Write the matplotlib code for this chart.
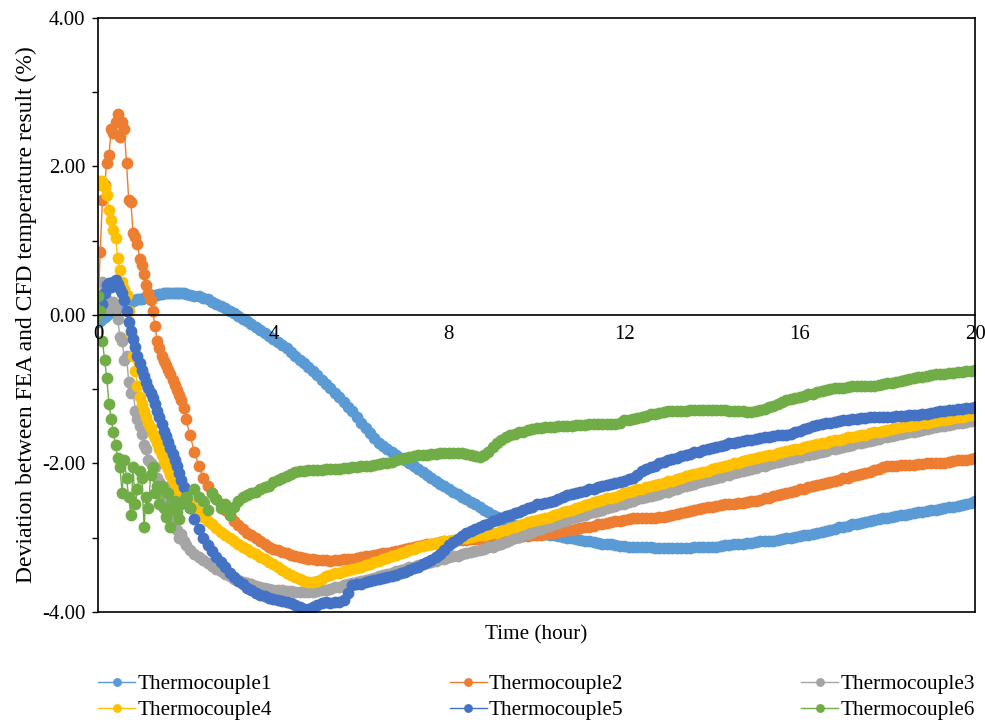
import numpy as np
import matplotlib
matplotlib.use("Agg")
import matplotlib.pyplot as plt

plt.rcParams['font.family'] = ['Liberation Serif', 'DejaVu Serif']
plt.rcParams['axes.unicode_minus'] = False

# time grid (hour): every 0.05 h for the first 2 h, then every 0.1 h
time_h = np.round(np.concatenate([np.arange(40) * 0.05, 2.0 + np.arange(181) * 0.1]), 2)

tc1 = [-0.10, -0.08, -0.05, -0.03, 0.00, 0.02, 0.04, 0.06, 0.08, 0.10,
       0.12, 0.13, 0.15, 0.16, 0.17, 0.18, 0.19, 0.20, 0.21, 0.22,
       0.22, 0.23, 0.24, 0.25, 0.25, 0.26, 0.27, 0.27, 0.28, 0.28,
       0.29, 0.29, 0.30, 0.30, 0.30, 0.30, 0.30, 0.30, 0.29, 0.29,
       # 2.0 h onwards, 0.1 h step
       0.28, 0.27, 0.26, 0.25, 0.23, 0.21, 0.18, 0.15, 0.12, 0.09,
       0.06, 0.03, -0.01, -0.05, -0.08, -0.12, -0.16, -0.20, -0.24, -0.28,
       -0.32, -0.36, -0.41, -0.45, -0.50, -0.55, -0.60, -0.65, -0.70, -0.75,
       -0.81, -0.87, -0.93, -0.99, -1.05, -1.11, -1.17, -1.24, -1.30, -1.38,
       -1.45, -1.52, -1.59, -1.66, -1.72, -1.77, -1.81, -1.85, -1.88, -1.92,
       -1.95, -1.99, -2.03, -2.07, -2.11, -2.15, -2.19, -2.23, -2.27, -2.31,
       -2.34, -2.38, -2.41, -2.45, -2.48, -2.52, -2.55, -2.59, -2.62, -2.66,
       -2.69, -2.72, -2.75, -2.78, -2.80, -2.83, -2.85, -2.87, -2.89, -2.91,
       -2.92, -2.94, -2.95, -2.96, -2.97, -2.98, -2.99, -3.00, -3.01, -3.02,
       -3.03, -3.04, -3.05, -3.06, -3.07, -3.08, -3.08, -3.09, -3.10, -3.11,
       -3.11, -3.12, -3.12, -3.13, -3.13, -3.13, -3.13, -3.14, -3.14, -3.14,
       -3.14, -3.14, -3.14, -3.14, -3.14, -3.14, -3.13, -3.13, -3.13, -3.12,
       -3.12, -3.12, -3.11, -3.10, -3.10, -3.09, -3.09, -3.08, -3.07, -3.07,
       -3.06, -3.05, -3.05, -3.05, -3.04, -3.03, -3.02, -3.01, -3.00, -2.99,
       -2.98, -2.97, -2.96, -2.95, -2.94, -2.92, -2.91, -2.89, -2.88, -2.86,
       -2.85, -2.84, -2.82, -2.81, -2.80, -2.79, -2.78, -2.76, -2.75, -2.74,
       -2.73, -2.72, -2.71, -2.70, -2.69, -2.68, -2.67, -2.66, -2.65, -2.64,
       -2.63, -2.62, -2.61, -2.60, -2.59, -2.58, -2.57, -2.56, -2.54, -2.53,
       -2.51]

tc2 = [0.10, 0.85, 1.55, 1.75, 2.05, 2.15, 2.50, 2.45, 2.60, 2.71,
       2.40, 2.60, 2.50, 2.05, 1.55, 1.52, 1.10, 1.05, 0.95, 0.75,
       0.67, 0.55, 0.40, 0.30, 0.20, 0.05, -0.15, -0.35, -0.45, -0.55,
       -0.62, -0.68, -0.74, -0.80, -0.87, -0.94, -1.01, -1.08, -1.15, -1.25,
       -1.40, -1.62, -1.85, -2.03, -2.20, -2.31, -2.40, -2.48, -2.55, -2.63,
       -2.70, -2.77, -2.83, -2.88, -2.93, -2.97, -3.01, -3.05, -3.08, -3.12,
       -3.15, -3.17, -3.19, -3.21, -3.23, -3.25, -3.26, -3.27, -3.28, -3.29,
       -3.30, -3.30, -3.30, -3.31, -3.30, -3.30, -3.29, -3.29, -3.28, -3.27,
       -3.26, -3.25, -3.24, -3.23, -3.22, -3.21, -3.20, -3.19, -3.18, -3.16,
       -3.15, -3.14, -3.13, -3.11, -3.10, -3.09, -3.08, -3.07, -3.06, -3.05,
       -3.04, -3.04, -3.03, -3.03, -3.03, -3.02, -3.02, -3.02, -3.02, -3.02,
       -3.02, -3.01, -3.01, -3.00, -3.00, -2.99, -2.99, -2.98, -2.98, -2.97,
       -2.97, -2.96, -2.95, -2.94, -2.93, -2.92, -2.91, -2.90, -2.89, -2.88,
       -2.87, -2.86, -2.85, -2.84, -2.82, -2.81, -2.80, -2.79, -2.78, -2.77,
       -2.76, -2.75, -2.74, -2.74, -2.73, -2.73, -2.73, -2.73, -2.72, -2.72,
       -2.71, -2.70, -2.68, -2.67, -2.65, -2.64, -2.62, -2.61, -2.60, -2.59,
       -2.58, -2.57, -2.56, -2.55, -2.54, -2.54, -2.53, -2.53, -2.52, -2.51,
       -2.50, -2.49, -2.47, -2.46, -2.44, -2.43, -2.41, -2.40, -2.38, -2.37,
       -2.35, -2.34, -2.32, -2.31, -2.29, -2.28, -2.26, -2.25, -2.23, -2.22,
       -2.20, -2.19, -2.17, -2.16, -2.14, -2.13, -2.11, -2.09, -2.07, -2.05,
       -2.04, -2.03, -2.03, -2.02, -2.02, -2.02, -2.02, -2.01, -2.01, -2.00,
       -2.00, -2.00, -1.99, -1.99, -1.98, -1.97, -1.96, -1.96, -1.95, -1.94,
       -1.93]

tc3 = [0.05, 0.20, 0.45, 0.35, 0.20, 0.10, 0.15, 0.18, 0.10, -0.05,
       -0.30, -0.35, -0.60, -0.55, -0.90, -1.05, -1.00, -1.30, -1.40, -1.50,
       -1.60, -1.75, -1.80, -1.95, -2.00, -2.05, -2.05, -2.20, -2.25, -2.30,
       -2.35, -2.45, -2.40, -2.30, -2.55, -2.75, -2.90, -3.00, -2.95, -3.05,
       -3.10, -3.16, -3.22, -3.26, -3.30, -3.34, -3.38, -3.42, -3.45, -3.49,
       -3.52, -3.55, -3.57, -3.59, -3.61, -3.63, -3.65, -3.67, -3.68, -3.69,
       -3.70, -3.71, -3.71, -3.72, -3.72, -3.73, -3.73, -3.73, -3.73, -3.73,
       -3.72, -3.71, -3.70, -3.69, -3.67, -3.66, -3.64, -3.63, -3.61, -3.60,
       -3.58, -3.57, -3.55, -3.54, -3.52, -3.50, -3.49, -3.47, -3.45, -3.44,
       -3.42, -3.40, -3.39, -3.37, -3.36, -3.34, -3.33, -3.31, -3.29, -3.28,
       -3.26, -3.25, -3.24, -3.22, -3.21, -3.19, -3.18, -3.16, -3.15, -3.13,
       -3.12, -3.10, -3.08, -3.06, -3.03, -3.01, -2.99, -2.97, -2.95, -2.92,
       -2.90, -2.88, -2.86, -2.84, -2.82, -2.80, -2.78, -2.76, -2.74, -2.72,
       -2.71, -2.69, -2.67, -2.65, -2.64, -2.62, -2.60, -2.58, -2.57, -2.55,
       -2.54, -2.52, -2.50, -2.48, -2.47, -2.45, -2.44, -2.42, -2.41, -2.39,
       -2.38, -2.36, -2.34, -2.32, -2.31, -2.29, -2.27, -2.25, -2.24, -2.22,
       -2.21, -2.19, -2.18, -2.16, -2.15, -2.13, -2.12, -2.10, -2.09, -2.07,
       -2.06, -2.04, -2.03, -2.01, -2.00, -1.98, -1.97, -1.95, -1.94, -1.92,
       -1.91, -1.89, -1.88, -1.87, -1.86, -1.84, -1.83, -1.81, -1.80, -1.79,
       -1.78, -1.76, -1.75, -1.73, -1.72, -1.71, -1.70, -1.68, -1.67, -1.65,
       -1.64, -1.63, -1.62, -1.60, -1.59, -1.58, -1.57, -1.56, -1.55, -1.53,
       -1.52, -1.51, -1.50, -1.49, -1.48, -1.47, -1.46, -1.45, -1.44, -1.43,
       -1.42]

tc4 = [1.75, 1.80, 1.80, 1.72, 1.62, 1.41, 1.28, 1.15, 1.04, 0.77,
       0.60, 0.45, 0.35, 0.27, 0.05, -0.25, -0.55, -0.75, -0.95, -1.10,
       -1.20, -1.30, -1.38, -1.45, -1.52, -1.60, -1.66, -1.72, -1.80, -1.88,
       -1.95, -2.02, -2.08, -2.15, -2.22, -2.28, -2.33, -2.38, -2.42, -2.46,
       -2.45, -2.53, -2.60, -2.66, -2.72, -2.77, -2.82, -2.87, -2.92, -2.96,
       -3.00, -3.04, -3.08, -3.12, -3.15, -3.19, -3.22, -3.26, -3.29, -3.33,
       -3.36, -3.40, -3.43, -3.47, -3.50, -3.53, -3.55, -3.58, -3.60, -3.60,
       -3.58, -3.55, -3.52, -3.50, -3.48, -3.47, -3.45, -3.44, -3.42, -3.41,
       -3.39, -3.37, -3.35, -3.33, -3.31, -3.29, -3.27, -3.25, -3.23, -3.21,
       -3.19, -3.17, -3.15, -3.13, -3.11, -3.10, -3.08, -3.07, -3.06, -3.05,
       -3.04, -3.03, -3.02, -3.01, -3.00, -2.99, -2.98, -2.97, -2.96, -2.95,
       -2.94, -2.93, -2.91, -2.89, -2.87, -2.85, -2.83, -2.81, -2.79, -2.78,
       -2.76, -2.75, -2.73, -2.72, -2.70, -2.68, -2.66, -2.64, -2.62, -2.60,
       -2.58, -2.56, -2.54, -2.52, -2.50, -2.49, -2.47, -2.46, -2.45, -2.43,
       -2.40, -2.38, -2.37, -2.35, -2.34, -2.32, -2.30, -2.29, -2.27, -2.26,
       -2.24, -2.23, -2.21, -2.19, -2.17, -2.16, -2.14, -2.13, -2.11, -2.10,
       -2.08, -2.06, -2.05, -2.03, -2.02, -2.00, -1.99, -1.97, -1.96, -1.94,
       -1.93, -1.91, -1.90, -1.89, -1.88, -1.86, -1.85, -1.83, -1.82, -1.81,
       -1.80, -1.78, -1.77, -1.75, -1.74, -1.73, -1.72, -1.70, -1.69, -1.68,
       -1.67, -1.65, -1.64, -1.63, -1.62, -1.61, -1.59, -1.58, -1.57, -1.56,
       -1.55, -1.53, -1.52, -1.51, -1.50, -1.49, -1.48, -1.47, -1.46, -1.45,
       -1.44, -1.43, -1.42, -1.41, -1.40, -1.39, -1.38, -1.37, -1.36, -1.35,
       -1.34]

tc5 = [0.05, 0.25, 0.15, 0.30, 0.40, 0.43, 0.38, 0.45, 0.47, 0.42,
       0.35, 0.30, 0.20, 0.05, -0.10, -0.22, -0.33, -0.43, -0.55, -0.65,
       -0.74, -0.82, -0.90, -0.98, -1.05, -1.12, -1.20, -1.29, -1.38, -1.47,
       -1.56, -1.63, -1.71, -1.79, -1.87, -1.95, -2.04, -2.13, -2.22, -2.32,
       -2.45, -2.60, -2.75, -2.88, -3.00, -3.10, -3.18, -3.26, -3.33, -3.40,
       -3.47, -3.53, -3.58, -3.63, -3.68, -3.71, -3.74, -3.77, -3.79, -3.81,
       -3.82, -3.84, -3.85, -3.87, -3.88, -3.90, -3.93, -3.96, -3.96, -3.93,
       -3.90, -3.88, -3.86, -3.88, -3.87, -3.86, -3.84, -3.75, -3.64, -3.63,
       -3.62, -3.60, -3.58, -3.57, -3.55, -3.54, -3.53, -3.52, -3.50, -3.48,
       -3.46, -3.44, -3.41, -3.39, -3.36, -3.33, -3.30, -3.26, -3.22, -3.16,
       -3.10, -3.06, -3.02, -2.98, -2.94, -2.91, -2.88, -2.86, -2.83, -2.81,
       -2.78, -2.76, -2.73, -2.71, -2.69, -2.67, -2.65, -2.63, -2.60, -2.58,
       -2.55, -2.54, -2.53, -2.52, -2.50, -2.48, -2.45, -2.43, -2.41, -2.40,
       -2.38, -2.37, -2.35, -2.34, -2.32, -2.31, -2.29, -2.28, -2.26, -2.25,
       -2.23, -2.21, -2.19, -2.15, -2.10, -2.07, -2.05, -2.03, -2.00, -1.98,
       -1.96, -1.94, -1.92, -1.90, -1.89, -1.87, -1.85, -1.84, -1.82, -1.80,
       -1.79, -1.78, -1.77, -1.75, -1.73, -1.72, -1.71, -1.70, -1.69, -1.68,
       -1.67, -1.66, -1.65, -1.64, -1.63, -1.62, -1.62, -1.61, -1.60, -1.58,
       -1.56, -1.54, -1.52, -1.50, -1.48, -1.47, -1.46, -1.45, -1.44, -1.43,
       -1.42, -1.41, -1.40, -1.40, -1.39, -1.39, -1.38, -1.38, -1.37, -1.37,
       -1.37, -1.37, -1.36, -1.36, -1.36, -1.35, -1.35, -1.35, -1.34, -1.33,
       -1.32, -1.31, -1.30, -1.29, -1.28, -1.28, -1.27, -1.26, -1.25, -1.25,
       -1.24]

tc6 = [0.25, 0.05, -0.35, -0.60, -0.85, -1.20, -1.40, -1.58, -1.75, -1.92,
       -2.05, -2.40, -1.95, -2.20, -2.45, -2.70, -2.05, -2.55, -2.35, -2.10,
       -2.20, -2.85, -2.45, -2.60, -2.15, -2.05, -2.40, -2.30, -2.55, -2.30,
       -2.60, -2.72, -2.40, -2.85, -2.60, -2.50, -2.65, -2.75, -2.55, -2.50,
       -2.45, -2.60, -2.35, -2.45, -2.50, -2.62, -2.40, -2.48, -2.60, -2.55,
       -2.70, -2.58, -2.50, -2.45, -2.42, -2.40, -2.38, -2.35, -2.32, -2.30,
       -2.25, -2.22, -2.20, -2.17, -2.14, -2.12, -2.10, -2.10, -2.09, -2.09,
       -2.09, -2.09, -2.08, -2.08, -2.07, -2.07, -2.06, -2.06, -2.05, -2.05,
       -2.04, -2.04, -2.03, -2.02, -2.01, -2.00, -1.99, -1.98, -1.96, -1.94,
       -1.92, -1.91, -1.90, -1.89, -1.88, -1.88, -1.87, -1.87, -1.86, -1.86,
       -1.86, -1.86, -1.86, -1.86, -1.87, -1.88, -1.90, -1.91, -1.88, -1.84,
       -1.78, -1.73, -1.68, -1.65, -1.62, -1.60, -1.58, -1.57, -1.55, -1.54,
       -1.52, -1.52, -1.51, -1.51, -1.51, -1.50, -1.50, -1.49, -1.49, -1.48,
       -1.48, -1.48, -1.47, -1.47, -1.47, -1.47, -1.47, -1.47, -1.47, -1.46,
       -1.42, -1.41, -1.40, -1.39, -1.37, -1.36, -1.34, -1.33, -1.32, -1.31,
       -1.30, -1.30, -1.29, -1.29, -1.29, -1.28, -1.28, -1.28, -1.28, -1.28,
       -1.28, -1.28, -1.28, -1.28, -1.29, -1.29, -1.30, -1.30, -1.31, -1.31,
       -1.30, -1.28, -1.26, -1.24, -1.22, -1.20, -1.17, -1.15, -1.13, -1.12,
       -1.10, -1.09, -1.07, -1.06, -1.04, -1.03, -1.01, -1.00, -0.99, -0.99,
       -0.98, -0.97, -0.96, -0.96, -0.95, -0.95, -0.95, -0.95, -0.94, -0.93,
       -0.92, -0.91, -0.90, -0.89, -0.88, -0.86, -0.85, -0.84, -0.83, -0.82,
       -0.81, -0.80, -0.79, -0.79, -0.78, -0.78, -0.77, -0.77, -0.76, -0.75,
       -0.74]

series = [tc1, tc2, tc3, tc4, tc5, tc6]
names = ["Thermocouple1", "Thermocouple2", "Thermocouple3",
         "Thermocouple4", "Thermocouple5", "Thermocouple6"]
colours = ["#5B9BD5", "#ED7D31", "#A5A5A5", "#FFC000", "#4472C4", "#70AD47"]
x_ticks = [0, 4, 8, 12, 16, 20]
y_ticks = [-4, -2, 0, 2, 4]

fig = plt.figure(figsize=(9.85, 7.22), dpi=100)
ax = fig.add_axes([0.0995, 0.1524, 0.8904, 0.8227])

handles = []
for vals, name, c in zip(series, names, colours):
    h, = ax.plot(time_h, vals, color=c, lw=1.0, marker='o', markersize=8.5,
                 markeredgewidth=0, label=name)
    handles.append(h)

ax.set_xlim(0, 20)
ax.set_ylim(-4, 4)

# x axis crosses at zero, box kept around the plot area
ax.spines['bottom'].set_position(('data', 0))
ax.axhline(-4, color='black', lw=1.2, clip_on=False)
for s in ax.spines.values():
    s.set_linewidth(1.2)
ax.set_axisbelow(False)
ax.set_xticks(x_ticks)
ax.set_xticklabels([str(v) for v in x_ticks])
ax.tick_params(axis='x', length=0, pad=7, labelsize=15)
ax.set_yticks(y_ticks)
ax.set_yticklabels(["%.2f" % v for v in y_ticks])
ax.set_yticks([-3, -1, 1, 3], minor=True)
ax.tick_params(axis='y', which='both', direction='out', length=4, width=1,
               labelsize=15, pad=5)

ax.set_xlabel("Time (hour)", fontsize=15.3)
ax.xaxis.set_label_coords(0.5, -0.022)
ax.set_ylabel("Deviation between FEA and CFD temperature result (%)", fontsize=17)

order = [0, 3, 1, 4, 2, 5]
ax.legend([handles[i] for i in order], [names[i] for i in order],
          loc='upper left', bbox_to_anchor=(0, -0.105, 1, 0), mode='expand',
          ncol=3, frameon=False, fontsize=15.3, handlelength=1.75,
          handletextpad=0.1, labelspacing=0.3, borderaxespad=0, borderpad=0,
          markerscale=0.75)

plt.savefig("out.png", dpi=100)
